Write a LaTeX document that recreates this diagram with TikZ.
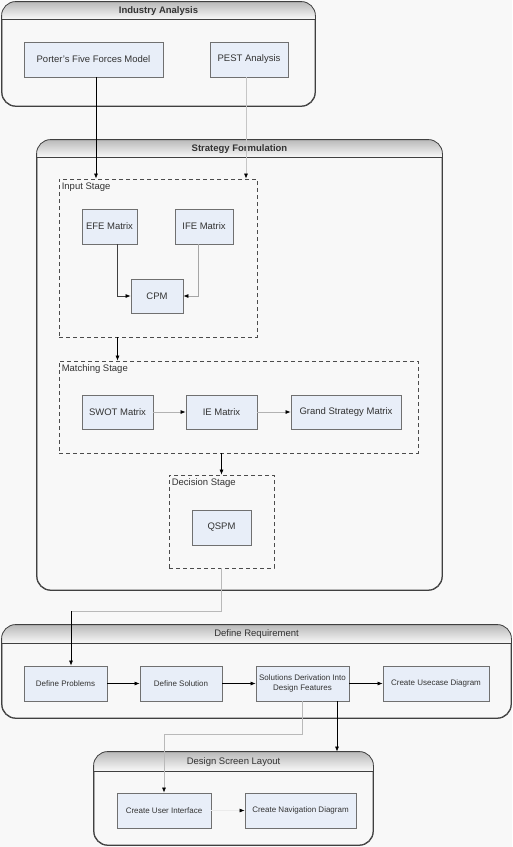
\documentclass[tikz,border=0pt]{standalone}
\usepackage{fontspec}
\setmainfont{Liberation Sans}
\usetikzlibrary{arrows.meta,calc}
\definecolor{bg}{HTML}{F8F8F8}
\definecolor{boxfill}{HTML}{E8EEF8}
\definecolor{boxline}{HTML}{707070}
\definecolor{txt}{HTML}{333333}
\newcommand\lanehead[4]{%
  \begin{scope}
    \clip[rounded corners=14pt] (#1.south west) rectangle (#1.north east);
    \shade[top color=gray!55, bottom color=gray!4] (#1.north west) rectangle ([yshift=-#2pt]#1.north east);
  \end{scope}
  \draw[black!75, line width=0.8pt] ([yshift=-#2pt]#1.north west) -- ([yshift=-#2pt]#1.north east);
  \draw[black!75, line width=0.8pt, rounded corners=14pt] (#1.south west) rectangle (#1.north east);
  \node[font=#4, text=txt] (#1t) at ($(#1.north)+(0,#2/2)$) {#3};
}
\begin{document}
\begin{tikzpicture}[x=1pt,y=-1pt,
  lane/.style={draw=black!75, fill=bg, rounded corners=14pt, line width=0.8pt, inner sep=0pt},
  box/.style={draw=boxline, fill=boxfill, line width=0.8pt, inner sep=1pt, align=center, text=txt, font=\fontsize{9.5}{11}\selectfont},
  sbox/.style={box, font=\fontsize{8}{9.6}\selectfont},
  stage/.style={draw=black!70, dash pattern=on 4pt off 3pt, line width=0.8pt, inner sep=0pt},
  stlabel/.style={anchor=north west, inner sep=0pt, text=txt, font=\fontsize{9.5}{11}\selectfont},
  arr/.style={-{Latex[length=5pt,width=4pt,color=black]}, line width=0.7pt},
  conn/.style={line width=0.7pt}]
\useasboundingbox[fill=bg] (0,0) rectangle (512,847);

% ---------- Industry Analysis ----------
\node[lane, minimum width=313pt, minimum height=104pt] (ia) at (158.5,54) {};
\lanehead{ia}{18}{Industry Analysis}{\bfseries\fontsize{9.5}{11}\selectfont}
\node[box, minimum width=139pt, minimum height=35pt] (porter) at (93.5,59.5) {Porter's Five Forces Model};
\node[box, minimum width=78pt, minimum height=35pt] (pest) at (249,59.5) {PEST Analysis};

% ---------- Strategy Formulation ----------
\node[lane, minimum width=405pt, minimum height=450pt] (sf) at (239.5,365) {};
\lanehead{sf}{18}{Strategy Formulation}{\bfseries\fontsize{9.5}{11}\selectfont}

\node[stage, minimum width=198pt, minimum height=158pt] (input) at (158,258) {};
\node[stlabel] (inputl) at ([xshift=3pt,yshift=-4pt]input.north west) {Input Stage};
\node[box, minimum width=55pt, minimum height=35pt] (efe) at (109.5,226.5) {EFE Matrix};
\node[box, minimum width=58pt, minimum height=35pt] (ife) at (204,226.5) {IFE Matrix};
\node[box, minimum width=52pt, minimum height=34pt] (cpm) at (157,296) {CPM};

\node[stage, minimum width=359pt, minimum height=92pt] (matching) at (238.5,407) {};
\node[stlabel] (matchingl) at ([xshift=3pt,yshift=-4pt]matching.north west) {Matching Stage};
\node[box, minimum width=71pt, minimum height=34pt] (swot) at (117.5,412) {SWOT Matrix};
\node[box, minimum width=71pt, minimum height=34pt] (ie) at (221.5,412) {IE Matrix};
\node[box, minimum width=110pt, minimum height=34pt] (grand) at (346,412) {Grand Strategy Matrix};

\node[stage, minimum width=105pt, minimum height=93pt] (decision) at (221.5,521.5) {};
\node[stlabel] (decisionl) at ([xshift=3pt,yshift=-4pt]decision.north west) {Decision Stage};
\node[box, minimum width=59pt, minimum height=35pt] (qspm) at (221.5,527.5) {QSPM};

% ---------- Define Requirement ----------
\node[lane, minimum width=509pt, minimum height=93pt] (dr) at (256.5,671.5) {};
\lanehead{dr}{19}{Define Requirement}{\fontsize{9.5}{11}\selectfont}
\node[sbox, minimum width=83pt, minimum height=35pt] (defprob) at (65.5,683.5) {Define Problems};
\node[sbox, minimum width=82pt, minimum height=35pt] (defsol) at (181,683.5) {Define Solution};
\node[sbox, minimum width=93pt, minimum height=35pt] (solder) at (302.5,683.5) {Solutions Derivation Into\\Design Features};
\node[sbox, minimum width=106pt, minimum height=35pt] (usecase) at (436,683.5) {Create Usecase Diagram};

% ---------- Design Screen Layout ----------
\node[lane, minimum width=279pt, minimum height=93pt] (dsl) at (233.5,798.5) {};
\lanehead{dsl}{20}{Design Screen Layout}{\fontsize{9.5}{11}\selectfont}
\node[sbox, minimum width=94pt, minimum height=35pt] (cui) at (164,810.5) {Create User Interface};
\node[sbox, minimum width=111pt, minimum height=35pt] (cnd) at (300.5,810.5) {Create Navigation Diagram};

% ---------- Connectors ----------
\draw[arr] ([xshift=2.5pt]porter.south) -- ([xshift=2.5pt]porter.south |- input.north);
\draw[arr, draw=gray!45] ([xshift=-3pt]pest.south) -- ([xshift=-3pt]pest.south |- input.north);
\draw[arr, draw=black!75] ([xshift=7.5pt]efe.south) |- (cpm.west);
\draw[arr, draw=gray!70] ([xshift=-6pt]ife.south) |- (cpm.east);
\draw[arr] (input.south -| swot) -- (matching.north -| swot);
\draw[arr, draw=gray!60] (swot.east) -- (ie.west);
\draw[arr, draw=gray!60] (ie.east) -- (grand.west);
\draw[arr] (matching.south -| decision.north) -- (decision.north);
\coordinate (bend) at ($(decision.south)+(0,43)$);
\coordinate (dpin) at ([xshift=5.5pt]defprob.north);
\draw[conn, draw=gray!55] (decision.south) |- (dpin |- bend);
\draw[arr] (dpin |- bend) -- (dpin);
\draw[arr] (defprob.east) -- (defsol.west);
\draw[arr] (defsol.east) -- (solder.west);
\draw[arr] (solder.east) -- (usecase.west);
\draw[arr, draw=gray!55] (solder.south) -- ++(0,33) -| (cui.north);
\draw[arr] ([xshift=34.5pt]solder.south) -- ([xshift=34.5pt]solder.south |- dsl.north);
\draw[arr, draw=white!92!black] (cui.east) -- (cnd.west);
\end{tikzpicture}
\end{document}
